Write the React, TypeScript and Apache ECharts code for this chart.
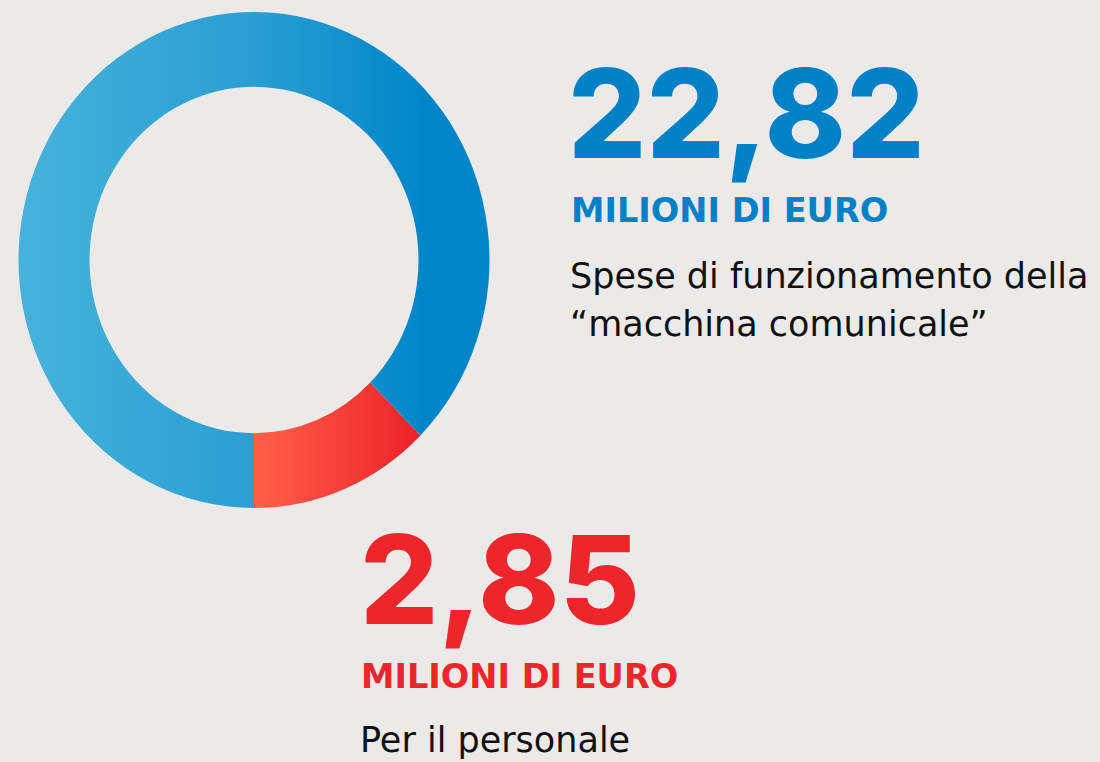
import React, { useEffect, useRef } from "react";
import * as echarts from "echarts";

const categories = ["Per il personale", "Altre spese di funzionamento"];
const values = [2.85, 19.97];
const bigLabels = ["22,82", "2,85"];
const unitLabel = "MILIONI DI EURO";
const descTop = ["Spese di funzionamento della", "“macchina comunicale”"];
const descBottom = ["Per il personale"];

const BG = "#ebeae8";
const BLUE = "#0080c6";
const RED = "#ee262b";
const FONT = "Inter, 'Noto Sans', sans-serif";
const FONT_WIDE = "'DejaVu Sans', 'Noto Sans', sans-serif";

export default function App() {
  const pieRef = useRef<HTMLDivElement>(null);
  const textRef = useRef<HTMLDivElement>(null);

  useEffect(() => {
    document.body.style.margin = "0";
    const pie = echarts.init(pieRef.current!, null, { renderer: "svg" });
    const txt = echarts.init(textRef.current!, null, { renderer: "svg" });

    const colors = [
      new echarts.graphic.LinearGradient(0, 0, 1, 0, [
        { offset: 0, color: "#ff604a" },
        { offset: 1, color: "#ed2229" },
      ]),
      new echarts.graphic.LinearGradient(0, 0, 1, 0, [
        { offset: 0, color: "#46b3da" },
        { offset: 0.5, color: "#2a9ed3" },
        { offset: 0.86, color: "#0086c8" },
        { offset: 1, color: "#0085c8" },
      ]),
    ];

    pie.setOption({
      animation: false,
      series: [
        {
          type: "pie",
          center: [250, 250],
          radius: [164.5, 235.5],
          startAngle: -90,
          clockwise: false,
          silent: true,
          label: { show: false },
          labelLine: { show: false },
          itemStyle: { borderWidth: 0 },
          data: categories.map((name, i) => ({
            name,
            value: values[i],
            itemStyle: { color: colors[i] },
          })),
        },
      ],
    });

    const t = (text: string, x: number, y: number, size: number, weight: any, color: string, family = FONT) => ({
      type: "text",
      x,
      y,
      style: {
        text,
        fontFamily: family,
        fontSize: size,
        fontWeight: weight,
        fill: color,
        align: "left",
        verticalAlign: "middle",
      },
    });

    txt.setOption({
      animation: false,
      graphic: [
        t(bigLabels[0], 568, 113.5, 123, 800, BLUE),
        t(unitLabel, 571, 210, 33.6, 700, BLUE, FONT_WIDE),
        t(descTop[0], 570, 275.5, 35, 400, "#111111", FONT_WIDE),
        t(descTop[1], 570, 323.5, 35, 400, "#111111", FONT_WIDE),
        t(bigLabels[1], 360, 579.5, 123, 800, RED),
        t(unitLabel, 361, 676.5, 33.6, 700, RED, FONT_WIDE),
        t(descBottom[0], 360, 740, 35, 400, "#111111", FONT_WIDE),
      ],
    });

    return () => {
      pie.dispose();
      txt.dispose();
    };
  }, []);

  return (
    <div style={{ position: "fixed", left: 0, top: 0, width: 1100, height: 762, background: BG, overflow: "hidden" }}>
      <div
        ref={pieRef}
        style={{
          position: "absolute",
          left: 3.5,
          top: 10,
          width: 500,
          height: 500,
          transform: `scaleY(${248 / 235.5})`,
          transformOrigin: "50% 50%",
        }}
      />
      <div ref={textRef} style={{ position: "absolute", left: 0, top: 0, width: 1100, height: 762 }} />
    </div>
  );
}
